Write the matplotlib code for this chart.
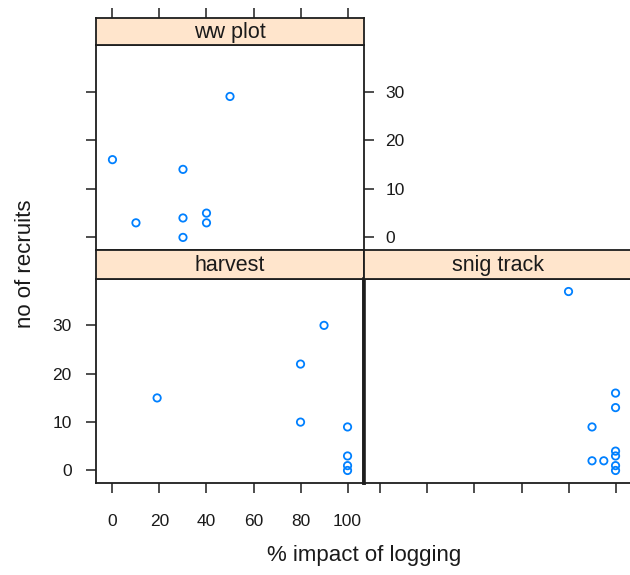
import matplotlib
matplotlib.use("Agg")
import matplotlib.pyplot as plt

plt.rcParams['font.family'] = ['Liberation Sans', 'DejaVu Sans']

# data (x = % impact of logging, y = no of recruits)
ww_x = [50, 0, 30, 10, 30, 40, 40, 30]
ww_y = [29, 16, 14, 3, 4, 5, 3, 0]

harvest_x = [19, 90, 80, 80, 100, 100, 100, 100]
harvest_y = [15, 30, 22, 10, 9, 3, 1, 0]

snig_x = [80, 100, 100, 90, 90, 95, 100, 100, 100, 100]
snig_y = [37, 16, 13, 9, 2, 2, 4, 3, 1, 0]

x_ticks = [0, 20, 40, 60, 80, 100]
y_ticks = [0, 10, 20, 30]
xlim = (-7, 107)
ylim = (-2.59, 39.59)

W, H = 630, 575
fig = plt.figure(figsize=(W / 100, H / 100), dpi=100)

def box(x0, y0, x1, y1):
    # pixel box (top-left origin) -> figure fraction
    return [x0 / W, 1 - y1 / H, (x1 - x0) / W, (y1 - y0) / H]

frame_col = '#1e1e1e'
pt_col = '#0080ff'
strip_col = '#ffe5cc'

def panel(px, py, strip_y, name, xs, ys):
    ax = fig.add_axes(box(px[0], py[0], px[1], py[1]))
    ax.scatter(xs, ys, s=28, facecolors='none', edgecolors=pt_col, linewidths=1.3)
    ax.set_xlim(xlim)
    ax.set_ylim(ylim)
    ax.set_xticks(x_ticks)
    ax.set_yticks(y_ticks)
    for s in ax.spines.values():
        s.set_color(frame_col)
        s.set_linewidth(1.3)
    ax.tick_params(direction='out', length=7.5, width=1.1, color=frame_col,
                   labelsize=12.5, labelcolor='#1a1a1a')
    st = fig.add_axes(box(px[0], strip_y[0], px[1], strip_y[1]))
    st.set_facecolor(strip_col)
    st.set_xlim(xlim)
    st.set_xticks([])
    st.set_yticks([])
    for s in st.spines.values():
        s.set_color(frame_col)
        s.set_linewidth(1.3)
    st.text(0.5, 0.45, name, transform=st.transAxes, ha='center', va='center',
            fontsize=15.5, color='#1a1a1a')
    return ax, st

# ww plot (top left)
ax1, st1 = panel((96, 364), (45, 250), (18, 45), 'ww plot', ww_x, ww_y)
ax1.tick_params(axis='x', bottom=False, labelbottom=False)
ax1.tick_params(axis='y', left=True, labelleft=False, right=True, labelright=True, pad=8)
st1.set_xticks(x_ticks)
st1.tick_params(axis='x', top=True, bottom=False, labelbottom=False, labeltop=False,
                direction='out', length=7.5, width=1.1, color=frame_col)

# harvest (bottom left)
ax2, st2 = panel((96, 364), (279, 483), (250, 279), 'harvest', harvest_x, harvest_y)
ax2.tick_params(axis='x', pad=15)
ax2.tick_params(axis='y', pad=10)
ax2.spines['right'].set_linewidth(2.6)

# snig track (bottom right)
ax3, st3 = panel((364, 632), (279, 483), (250, 279), 'snig track', snig_x, snig_y)
ax3.tick_params(axis='x', labelbottom=False)
ax3.tick_params(axis='y', left=False, labelleft=False, right=True, labelright=False)
ax3.spines['left'].set_linewidth(2.6)

fig.text(364 / W, 1 - 555 / H, '% impact of logging', ha='center', va='center',
         fontsize=16, color='#1a1a1a')
fig.text(26 / W, 1 - 264 / H, 'no of recruits', ha='center', va='center',
         rotation=90, fontsize=16, color='#1a1a1a')

fig.savefig('out.png', dpi=100)
